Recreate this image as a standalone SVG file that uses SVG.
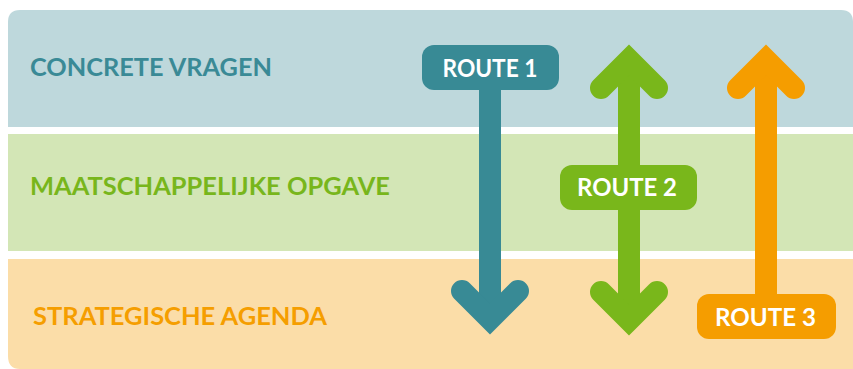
<svg xmlns="http://www.w3.org/2000/svg" width="853" height="369" viewBox="0 0 853 369">
<style>
.band-label{font-family:Lato,"Liberation Sans",sans-serif;font-weight:700;font-size:25px}
.route-label{font-family:Lato,"Liberation Sans",sans-serif;font-weight:700;font-size:25px;fill:#ffffff;text-anchor:middle}
.arrow{fill:none;stroke-width:22;stroke-linecap:round;stroke-linejoin:miter;stroke-miterlimit:4}
.shaft{stroke-width:22}
</style>
<rect x="0" y="0" width="853" height="369" fill="#ffffff"/>
<g id="band-concrete-vragen">
<path d="M8,22 Q8,10 20,10 L841,10 Q853,10 853,22 L853,127 L8,127 Z" fill="#bed8dc"/>
<text class="band-label" x="30" y="76" fill="#3a8a96" textLength="242" lengthAdjust="spacingAndGlyphs">CONCRETE VRAGEN</text>
</g>
<g id="band-maatschappelijke-opgave">
<rect x="8" y="134" width="845" height="117" fill="#d3e6b6"/>
<text class="band-label" x="30" y="195" fill="#78b61c" textLength="360" lengthAdjust="spacingAndGlyphs">MAATSCHAPPELIJKE OPGAVE</text>
</g>
<g id="band-strategische-agenda">
<path d="M8,259 L853,259 L853,369 L8,369 Z" fill="#fbdda8"/>
<path d="M8,356 Q8,369 20,369 L8,369 Z" fill="#ffffff"/>
<text class="band-label" x="33" y="325" fill="#f59e00" textLength="294" lengthAdjust="spacingAndGlyphs">STRATEGISCHE AGENDA</text>
</g>
<g id="connectors">
<line class="shaft" x1="490" y1="80" x2="490" y2="318" stroke="#388a95"/>
<polyline class="arrow" points="462,291 490,319 518,291" stroke="#388a95"/>
<line class="shaft" x1="629" y1="62" x2="629" y2="318" stroke="#79b71b"/>
<polyline class="arrow" points="601,88 629,60 657,88" stroke="#79b71b"/>
<polyline class="arrow" points="601,292 629,320 657,292" stroke="#79b71b"/>
<line class="shaft" x1="766" y1="62" x2="766" y2="300" stroke="#f59d00"/>
<polyline class="arrow" points="738,88 766,60 794,88" stroke="#f59d00"/>
</g>
<g id="route-1">
<rect x="422" y="45" width="137" height="45" rx="12" fill="#388a95"/>
<text class="route-label" x="490" y="77" textLength="95" lengthAdjust="spacingAndGlyphs">ROUTE 1</text>
</g>
<g id="route-2">
<rect x="560" y="165" width="137" height="45" rx="12" fill="#79b71b"/>
<text class="route-label" x="627" y="196" textLength="100" lengthAdjust="spacingAndGlyphs">ROUTE 2</text>
</g>
<g id="route-3">
<rect x="697" y="294" width="139" height="45" rx="12" fill="#f59d00"/>
<text class="route-label" x="765.5" y="326" textLength="101" lengthAdjust="spacingAndGlyphs">ROUTE 3</text>
</g>
</svg>
